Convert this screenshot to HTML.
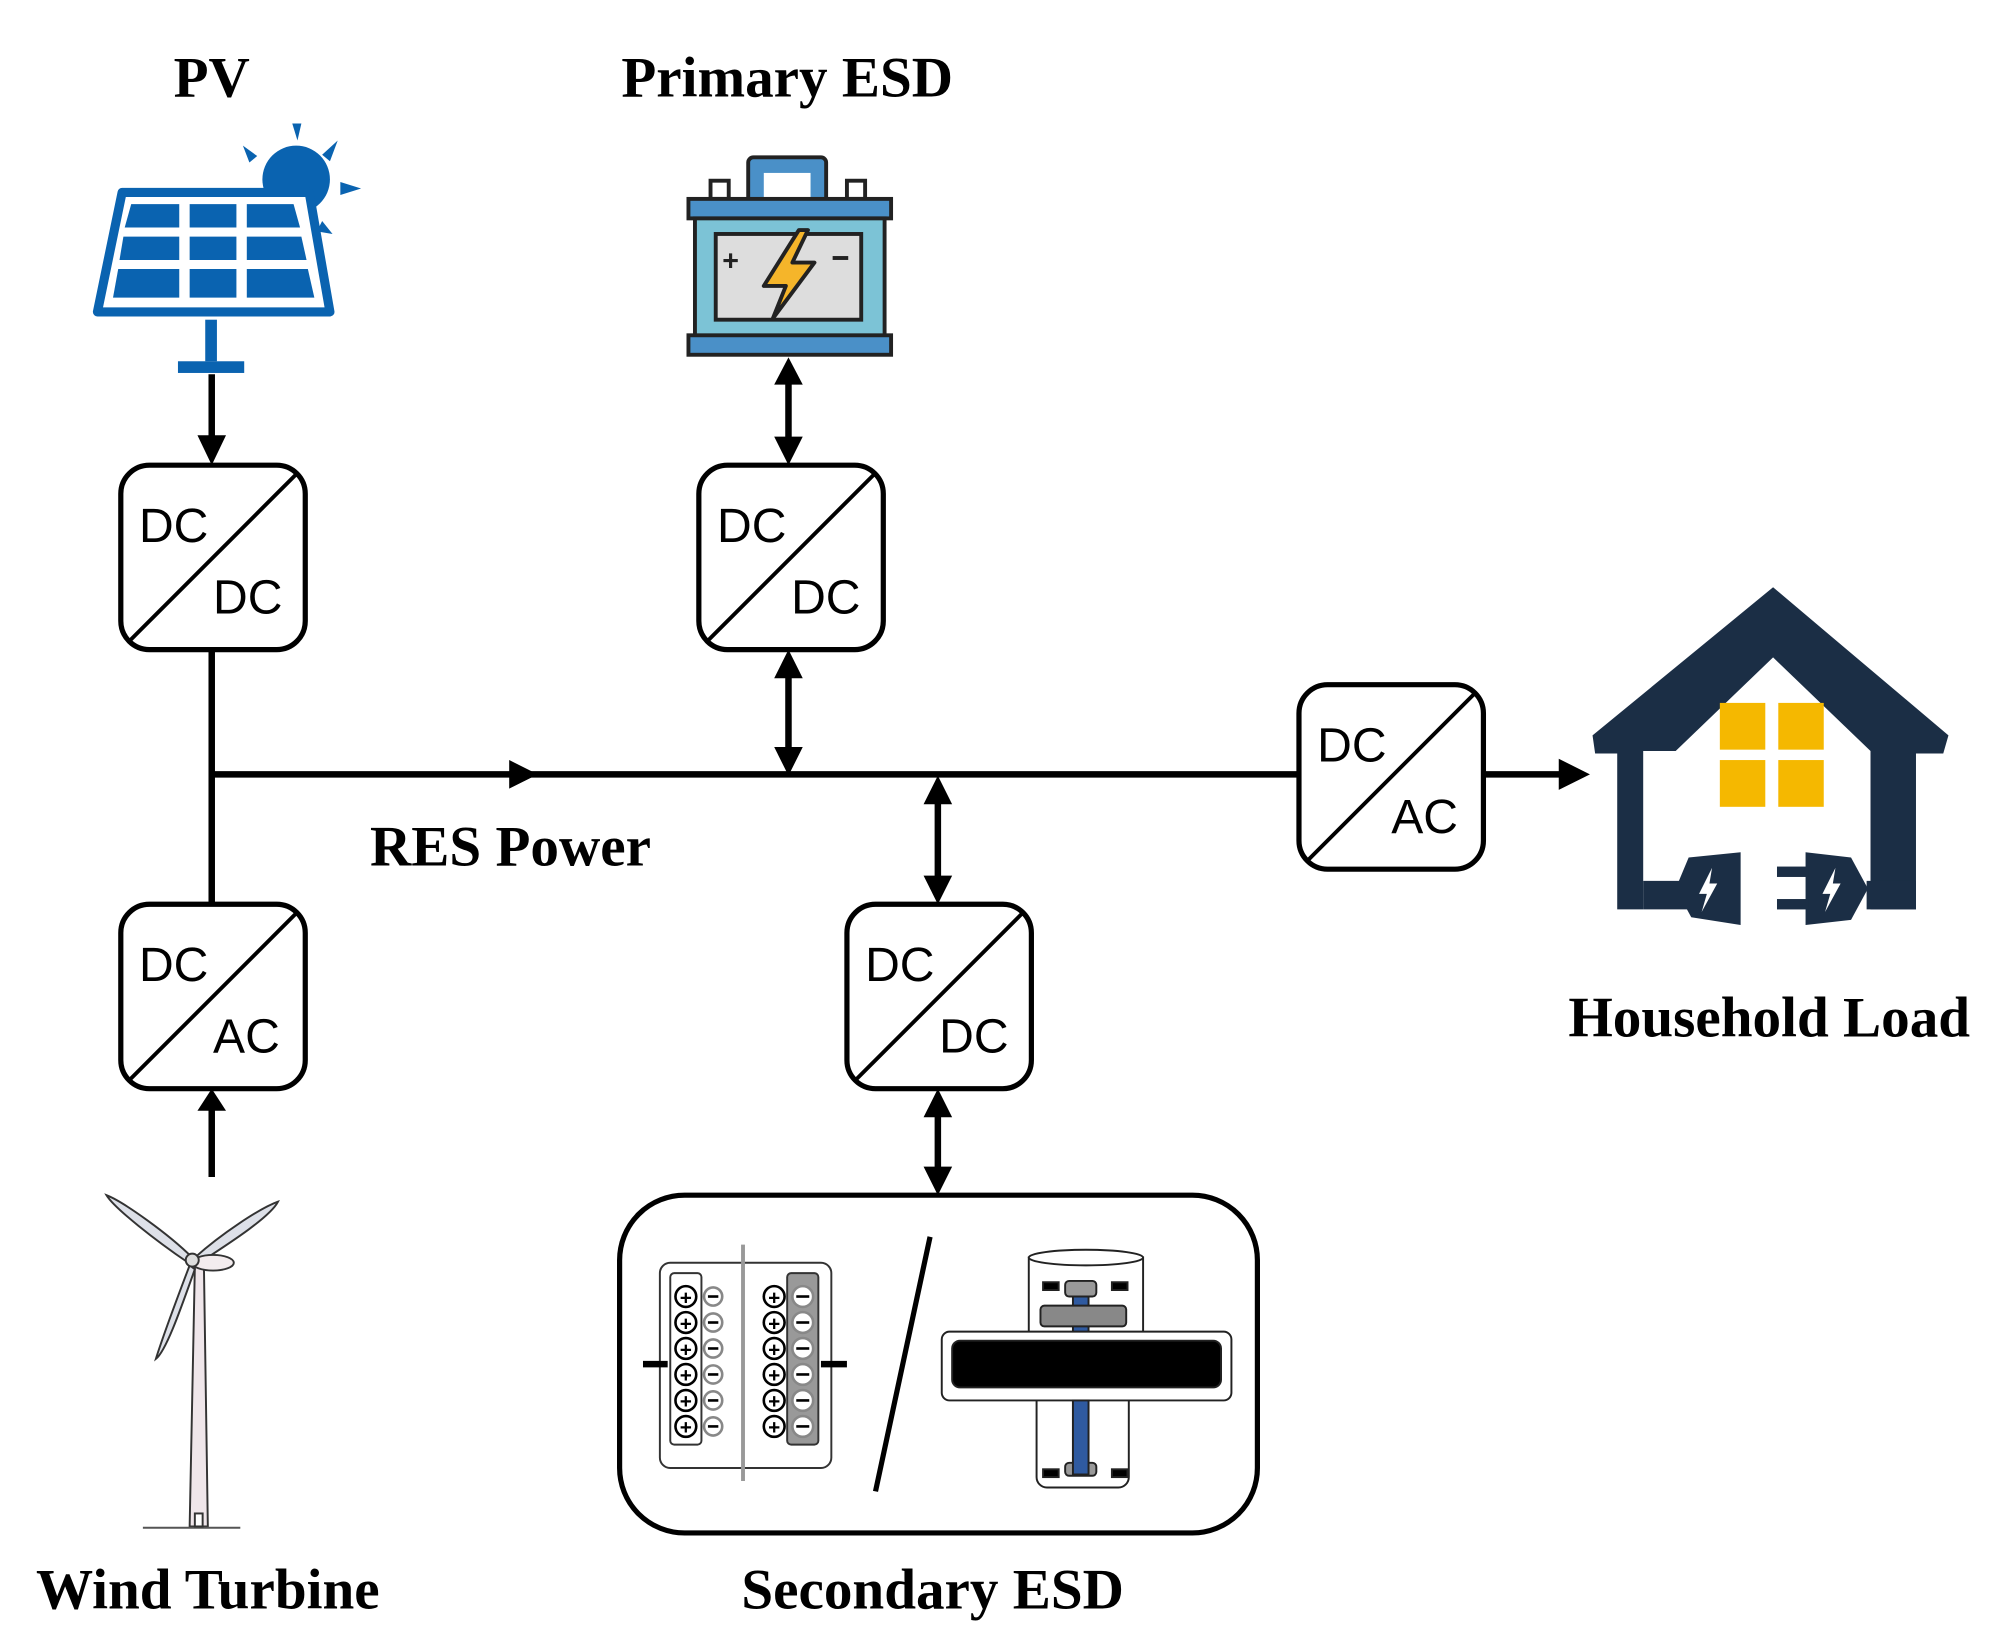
<!DOCTYPE html>
<html><head><meta charset="utf-8"><style>
html,body{margin:0;padding:0;background:#fff;}
svg{display:block;}
.lbl{font-family:"Liberation Serif",serif;font-weight:bold;font-size:44px;fill:#000;}
.dc{font-family:"Liberation Sans",sans-serif;font-size:37px;fill:#000;}
</style></head><body>
<svg width="2016" height="1650" viewBox="0 0 1552 1270" xmlns="http://www.w3.org/2000/svg">
<defs>
<marker id="ah" markerWidth="10" markerHeight="10" refX="8" refY="5" orient="auto-start-reverse" markerUnits="userSpaceOnUse" viewBox="0 0 10 10">
</marker>
</defs>
<rect width="1552" height="1270" fill="#fff"/>

<!-- labels -->
<text class="lbl" x="163" y="74" text-anchor="middle">PV</text>
<text class="lbl" x="606" y="74" text-anchor="middle">Primary ESD</text>
<text class="lbl" x="393" y="666" text-anchor="middle">RES Power</text>
<text class="lbl" x="160" y="1238" text-anchor="middle">Wind Turbine</text>
<text class="lbl" x="718" y="1238" text-anchor="middle">Secondary ESD</text>
<text class="lbl" x="1362" y="798" text-anchor="middle">Household Load</text>

<!-- solar panel -->
<g fill="#0a63b0">
  <circle cx="228" cy="138" r="26"/>
  <polygon points="225,95 232,95 229,108"/>
  <polygon points="187,112 198,120 192,125"/>
  <polygon points="260,108 254,124 248,119"/>
  <polygon points="262,140 278,145 262,150"/>
  <polygon points="248,170 256,180 244,178"/>
</g>
<path d="M94,148 L238,148 L254,240 L75,240 Z" fill="#fff" stroke="#0a63b0" stroke-width="7" stroke-linejoin="round"/>
<g fill="#0a63b0">
  <polygon points="101,157 138,157 138,175 96,175"/>
  <polygon points="146,157 182,157 182,175 146,175"/>
  <polygon points="190,157 226,157 231,175 190,175"/>
  <polygon points="95,182 138,182 138,200 92,200"/>
  <polygon points="146,182 182,182 182,200 146,200"/>
  <polygon points="190,182 232,182 236,200 190,200"/>
  <polygon points="91,207 138,207 138,229 87,229"/>
  <polygon points="146,207 182,207 182,229 146,229"/>
  <polygon points="190,207 237,207 242,229 190,229"/>
  <rect x="158" y="246" width="9" height="32"/>
  <rect x="137" y="278" width="51" height="9"/>
</g>

<!-- battery -->
<g stroke="#222" stroke-width="3">
  <rect x="576" y="121" width="60" height="38" rx="4" fill="#4a90c8"/>
  <rect x="588" y="133" width="36" height="26" fill="#fff" stroke="none"/>
  <rect x="547" y="139" width="14" height="14" fill="#fff"/>
  <rect x="652" y="139" width="14" height="14" fill="#fff"/>
  <rect x="530" y="153" width="156" height="15" fill="#4a90c8"/>
  <rect x="535" y="168" width="146" height="92" fill="#7cc3d6"/>
  <rect x="530" y="258" width="156" height="15" fill="#4a90c8"/>
  <rect x="551" y="180" width="112" height="66" fill="#ddd"/>
</g>
<text x="556" y="208" font-family="Liberation Sans,sans-serif" font-weight="bold" font-size="22" fill="#222">+</text>
<rect x="641" y="197" width="12" height="3" fill="#222"/>
<polygon points="615,177 588,220 605,220 595,245 627,202 610,202 622,177" fill="#f5b52a" stroke="#222" stroke-width="3" stroke-linejoin="round"/>

<!-- connectors -->
<g stroke="#000" stroke-width="5" fill="none">
  <line x1="163" y1="288" x2="163" y2="340"/>
  <line x1="163" y1="500" x2="163" y2="696"/>
  <line x1="163" y1="596" x2="1000" y2="596"/>
  <line x1="163" y1="852" x2="163" y2="906"/>
  <line x1="607" y1="293" x2="607" y2="340"/>
  <line x1="607" y1="518" x2="607" y2="578"/>
  <line x1="722" y1="615" x2="722" y2="678"/>
  <line x1="722" y1="856" x2="722" y2="902"/>
  <line x1="1142" y1="596" x2="1205" y2="596"/>
</g>
<g fill="#000">
  <polygon points="152,335 174,335 163,358"/>
  <polygon points="152,855 174,855 163,838"/>
  <polygon points="392,585 392,607 414,596"/>
  <polygon points="596,296 618,296 607,275"/>
  <polygon points="596,336 618,336 607,358"/>
  <polygon points="596,522 618,522 607,500"/>
  <polygon points="596,575 618,575 607,597"/>
  <polygon points="711,619 733,619 722,597"/>
  <polygon points="711,674 733,674 722,696"/>
  <polygon points="711,860 733,860 722,838"/>
  <polygon points="711,898 733,898 722,920"/>
  <polygon points="1200,584 1200,608 1224,596"/>
</g>

<!-- converters -->
<g stroke="#000" stroke-width="4" fill="#fff">
  <rect x="93" y="358" width="142" height="142" rx="22"/>
  <rect x="538" y="358" width="142" height="142" rx="22"/>
  <rect x="93" y="696" width="142" height="142" rx="22"/>
  <rect x="652" y="696" width="142" height="142" rx="22"/>
  <rect x="1000" y="527" width="142" height="142" rx="22"/>
</g>
<g stroke="#000" stroke-width="3">
  <line x1="99" y1="494" x2="229" y2="364"/>
  <line x1="544" y1="494" x2="674" y2="364"/>
  <line x1="99" y1="832" x2="229" y2="702"/>
  <line x1="658" y1="832" x2="788" y2="702"/>
  <line x1="1006" y1="663" x2="1136" y2="533"/>
</g>
<g class="dc">
  <text x="107" y="417">DC</text><text x="164" y="472">DC</text>
  <text x="552" y="417">DC</text><text x="609" y="472">DC</text>
  <text x="107" y="755">DC</text><text x="164" y="810">AC</text>
  <text x="666" y="755">DC</text><text x="723" y="810">DC</text>
  <text x="1014" y="586">DC</text><text x="1071" y="641">AC</text>
</g>

<!-- house -->
<g fill="#1b2e45">
  <polygon points="1365,452 1500,566 1496,580 1475,580 1475,700 1440,700 1440,583 1440,578 1365,506 1290,578 1265,578 1265,700 1245,700 1245,580 1228,580 1226,566"/>
  <polygon points="1265,678 1300,678 1300,700 1265,700"/>
  <polygon points="1437,678 1475,678 1475,700 1437,700"/>
  <path d="M1300,660 L1340,656 L1340,712 L1302,706 L1290,684 Z"/>
  <path d="M1390,656 L1425,660 L1438,684 L1425,708 L1390,712 Z"/>
  <rect x="1368" y="667" width="24" height="8"/>
  <rect x="1368" y="692" width="24" height="8"/>
</g>
<g fill="#fff">
  <polygon points="1318,668 1308,688 1314,688 1310,702 1322,680 1316,680"/>
  <polygon points="1413,668 1403,688 1409,688 1405,702 1417,680 1411,680"/>
</g>
<g fill="#f5b800">
  <rect x="1324" y="541" width="35" height="36"/>
  <rect x="1369" y="541" width="35" height="36"/>
  <rect x="1324" y="585" width="35" height="36"/>
  <rect x="1369" y="585" width="35" height="36"/>
</g>

<!-- wind turbine -->
<g stroke="#333" stroke-width="1.5">
  <polygon points="146,1175 160,1175 157,975 150,975" fill="#efe6ea"/>
  <line x1="110" y1="1176" x2="185" y2="1176" stroke="#555"/>
  <rect x="150" y="1165" width="6" height="10" fill="#fff"/>
  <path d="M148,968 C130,950 95,925 82,920 C88,930 120,955 145,972 Z" fill="#dde0e8"/>
  <path d="M150,968 C170,950 200,930 214,925 C208,937 175,958 152,973 Z" fill="#dde0e8"/>
  <path d="M146,974 C138,995 125,1030 120,1046 C128,1040 140,1005 150,977 Z" fill="#dde0e8"/>
  <ellipse cx="164" cy="972" rx="16" ry="6" fill="#f3ecee"/>
  <circle cx="148" cy="970" r="5" fill="#ddd"/>
</g>

<!-- secondary ESD box -->
<rect x="477" y="920" width="491" height="260" rx="50" fill="#fff" stroke="#000" stroke-width="4"/>
<line x1="716" y1="952" x2="674" y2="1148" stroke="#000" stroke-width="4"/>
<!-- supercap -->
<rect x="508" y="972" width="132" height="158" rx="8" fill="#fff" stroke="#333" stroke-width="1.5"/>
<rect x="516" y="980" width="24" height="132" rx="3" fill="#fff" stroke="#333" stroke-width="1.5"/>
<rect x="606" y="980" width="24" height="132" rx="3" fill="#999" stroke="#333" stroke-width="1.5"/>
<line x1="572" y1="958" x2="572" y2="1140" stroke="#999" stroke-width="3"/>
<line x1="495" y1="1050" x2="514" y2="1050" stroke="#000" stroke-width="5"/>
<line x1="632" y1="1050" x2="652" y2="1050" stroke="#000" stroke-width="5"/>
<g stroke-width="2">
  <g fill="#fff" stroke="#000">
    <circle cx="528" cy="998" r="8"/><circle cx="528" cy="1018" r="8"/><circle cx="528" cy="1038" r="8"/>
    <circle cx="528" cy="1058" r="8"/><circle cx="528" cy="1078" r="8"/><circle cx="528" cy="1098" r="8"/>
    <circle cx="596" cy="998" r="8"/><circle cx="596" cy="1018" r="8"/><circle cx="596" cy="1038" r="8"/>
    <circle cx="596" cy="1058" r="8"/><circle cx="596" cy="1078" r="8"/><circle cx="596" cy="1098" r="8"/>
  </g>
  <g fill="#fff" stroke="#888">
    <circle cx="549" cy="998" r="7"/><circle cx="549" cy="1018" r="7"/><circle cx="549" cy="1038" r="7"/>
    <circle cx="549" cy="1058" r="7"/><circle cx="549" cy="1078" r="7"/><circle cx="549" cy="1098" r="7"/>
    <circle cx="618" cy="998" r="8"/><circle cx="618" cy="1018" r="8"/><circle cx="618" cy="1038" r="8"/>
    <circle cx="618" cy="1058" r="8"/><circle cx="618" cy="1078" r="8"/><circle cx="618" cy="1098" r="8"/>
  </g>
</g>
<g fill="#000" font-family="Liberation Sans,sans-serif" font-weight="bold" font-size="16" text-anchor="middle">
  <text x="528" y="1004">+</text><text x="528" y="1024">+</text><text x="528" y="1044">+</text>
  <text x="528" y="1064">+</text><text x="528" y="1084">+</text><text x="528" y="1104">+</text>
  <text x="596" y="1004">+</text><text x="596" y="1024">+</text><text x="596" y="1044">+</text>
  <text x="596" y="1064">+</text><text x="596" y="1084">+</text><text x="596" y="1104">+</text>
</g>
<g stroke="#000" stroke-width="2">
  <line x1="545" y1="998" x2="553" y2="998"/><line x1="545" y1="1018" x2="553" y2="1018"/><line x1="545" y1="1038" x2="553" y2="1038"/>
  <line x1="545" y1="1058" x2="553" y2="1058"/><line x1="545" y1="1078" x2="553" y2="1078"/><line x1="545" y1="1098" x2="553" y2="1098"/>
  <line x1="613" y1="998" x2="623" y2="998"/><line x1="613" y1="1018" x2="623" y2="1018"/><line x1="613" y1="1038" x2="623" y2="1038"/>
  <line x1="613" y1="1058" x2="623" y2="1058"/><line x1="613" y1="1078" x2="623" y2="1078"/><line x1="613" y1="1098" x2="623" y2="1098"/>
</g>
<!-- flywheel -->
<g stroke="#222" stroke-width="1.5">
  <rect x="792" y="968" width="88" height="80" fill="#fff"/>
  <ellipse cx="836" cy="968" rx="44" ry="6" fill="#fff"/>
  <rect x="798" y="1070" width="71" height="75" rx="8" fill="#fff"/>
  <rect x="803" y="987" width="12" height="6" fill="#000"/><rect x="856" y="987" width="12" height="6" fill="#000"/>
  <rect x="803" y="1131" width="12" height="6" fill="#000"/><rect x="856" y="1131" width="12" height="6" fill="#000"/>
  <rect x="826" y="990" width="12" height="145" fill="#2f5aa0"/>
  <rect x="820" y="986" width="24" height="12" rx="3" fill="#999"/>
  <rect x="820" y="1126" width="24" height="10" rx="3" fill="#999"/>
  <rect x="801" y="1005" width="66" height="16" rx="3" fill="#888"/>
  <rect x="725" y="1025" width="223" height="53" rx="6" fill="#fff"/>
  <rect x="733" y="1032" width="207" height="36" rx="6" fill="#000"/>
  <rect x="826" y="1078" width="12" height="57" fill="#2f5aa0"/>
</g>
</svg>
</body></html>
